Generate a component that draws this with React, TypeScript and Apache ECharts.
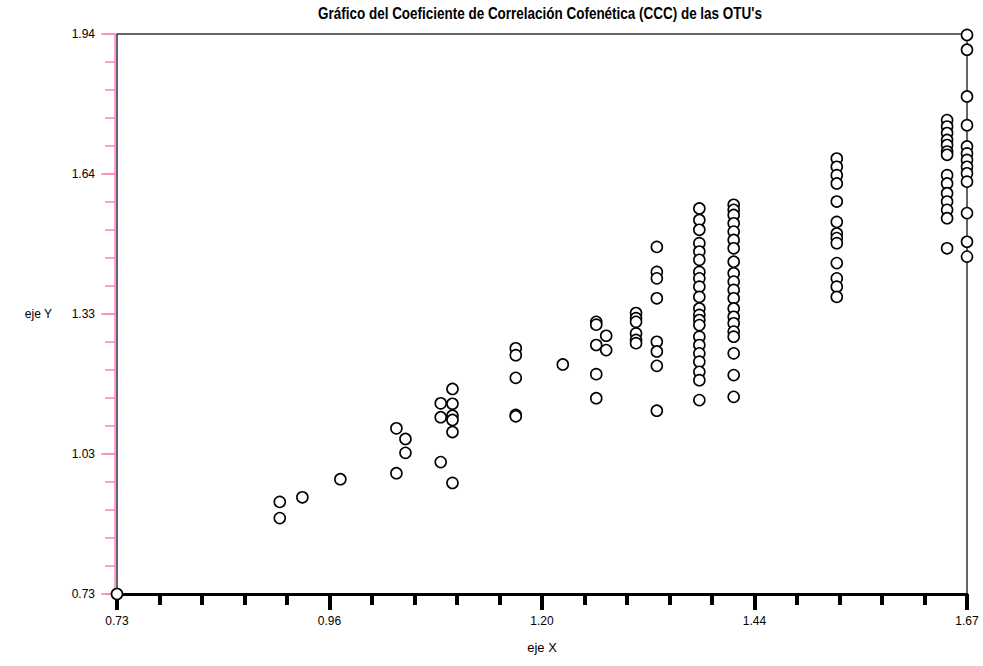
import React, { useEffect, useRef } from "react";
import * as echarts from "echarts";

const titleText = "Gráfico del Coeficiente de Correlación Cofenética (CCC) de las OTU's";
const xName = "eje X";
const yName = "eje Y";

const xMin = 0.73;
const xMax = 1.67;
const yMin = 0.73;
const yMax = 1.94;

const xMajorTicks = [0.73, 0.965, 1.2, 1.435, 1.67];
const xTickLabels = ["0.73", "0.96", "1.20", "1.44", "1.67"];
const yMajorTicks = [0.73, 1.0325, 1.335, 1.6375, 1.94];
const yTickLabels = ["0.73", "1.03", "1.33", "1.64", "1.94"];

// x position of each column of points, and the y values in that column
const columnX = [
  0.73, 0.91, 0.935, 0.977, 1.039, 1.049, 1.088, 1.101, 1.171, 1.223,
  1.26, 1.271, 1.304, 1.327, 1.374, 1.412, 1.526, 1.648, 1.67,
];
const colA = [0.73];
const colB = [0.929, 0.894];
const colC = [0.939];
const colD = [0.978];
const colE = [1.088, 0.991];
const colF = [1.065, 1.035];
const colG = [1.142, 1.112, 1.015];
const colH = [1.173, 1.141, 1.115, 1.106, 1.08, 0.97];
const colI = [1.261, 1.246, 1.197, 1.117, 1.114];
const colJ = [1.226];
const colK = [1.318, 1.312, 1.268, 1.205, 1.153];
const colL = [1.288, 1.257];
const colM = [1.337, 1.326, 1.318, 1.293, 1.279, 1.272];
const colN = [1.48, 1.426, 1.412, 1.369, 1.275, 1.254, 1.223, 1.126];
const colO = [
  1.563, 1.538, 1.517, 1.488, 1.47, 1.452, 1.426, 1.412, 1.394, 1.372, 1.347,
  1.333, 1.322, 1.311, 1.286, 1.268, 1.25, 1.232, 1.21, 1.192, 1.149,
];
const colP = [
  1.571, 1.56, 1.549, 1.531, 1.513, 1.495, 1.477, 1.448, 1.423, 1.405, 1.387,
  1.369, 1.347, 1.329, 1.315, 1.297, 1.286, 1.25, 1.203, 1.156,
];
const colQ = [
  1.671, 1.653, 1.635, 1.617, 1.578, 1.534, 1.509, 1.499, 1.488, 1.445, 1.412,
  1.394, 1.372,
];
const colR = [
  1.754, 1.74, 1.726, 1.711, 1.7, 1.686, 1.679, 1.635, 1.617, 1.596, 1.578,
  1.56, 1.542, 1.477,
];
const colS = [
  1.938, 1.906, 1.805, 1.743, 1.697, 1.682, 1.668, 1.653, 1.639, 1.621, 1.553,
  1.491, 1.459,
];
const columnY = [
  colA, colB, colC, colD, colE, colF, colG, colH, colI, colJ,
  colK, colL, colM, colN, colO, colP, colQ, colR, colS,
];

function minorTicks(majors: number[], parts: number): number[] {
  const out: number[] = [];
  for (let i = 0; i < majors.length - 1; i++) {
    const step = (majors[i + 1] - majors[i]) / parts;
    for (let k = 0; k < parts; k++) out.push(majors[i] + k * step);
  }
  out.push(majors[majors.length - 1]);
  return out;
}

function labelFor(ticks: number[], labels: string[]) {
  return (v: number) => {
    const i = ticks.findIndex((t) => Math.abs(t - v) < 1e-6);
    return i >= 0 ? labels[i] : "";
  };
}

const PINK = "#ff7fbf";
const FONT = "'Liberation Sans', Arial, sans-serif";
const TITLE_FONT = "bold 16px 'Liberation Sans', Arial, sans-serif";
const TITLE_WIDTH = 444;

function titleScale(): number {
  try {
    const ctx = document.createElement("canvas").getContext("2d");
    if (!ctx) return 0.8;
    ctx.font = TITLE_FONT;
    const w = ctx.measureText(titleText).width;
    return w > 0 ? TITLE_WIDTH / w : 0.8;
  } catch (e) {
    return 0.8;
  }
}

export default function App() {
  const ref = useRef<HTMLDivElement>(null);
  useEffect(() => {
    if (!ref.current) return;
    const chart = echarts.init(ref.current, null, { renderer: "svg" });
    const data: number[][] = [];
    columnX.forEach((x, i) => columnY[i].forEach((y) => data.push([x, y])));
    const s = titleScale();
    chart.setOption({
      animation: false,
      backgroundColor: "#ffffff",
      graphic: [
        {
          type: "text",
          x: 540,
          y: 14,
          scaleX: s,
          scaleY: 1,
          style: {
            text: titleText,
            font: TITLE_FONT,
            fill: "#000",
            textAlign: "center",
            textVerticalAlign: "middle",
          },
        },
      ],
      grid: {
        left: 117,
        right: 16,
        top: 34,
        bottom: 72,
        show: true,
        borderColor: "#333",
        borderWidth: 1.5,
        backgroundColor: "transparent",
      },
      xAxis: [
        {
          type: "value",
          min: xMin,
          max: xMax,
          position: "bottom",
          name: xName,
          nameLocation: "middle",
          nameGap: 47,
          nameTextStyle: { color: "#000", fontSize: 13, fontFamily: FONT },
          axisLine: { show: true, onZero: false, lineStyle: { color: "#000", width: 3 } },
          axisTick: { show: true, customValues: xMajorTicks, length: 16, lineStyle: { color: "#000", width: 4 } },
          axisLabel: {
            customValues: xMajorTicks,
            formatter: labelFor(xMajorTicks, xTickLabels),
            margin: 21,
            color: "#000",
            fontSize: 12,
            fontFamily: FONT,
          },
          splitLine: { show: false },
        },
        {
          type: "value",
          min: xMin,
          max: xMax,
          position: "bottom",
          axisLine: { show: false, onZero: false },
          axisTick: { show: true, customValues: minorTicks(xMajorTicks, 5), length: 11, lineStyle: { color: "#000", width: 4 } },
          axisLabel: { show: false },
          splitLine: { show: false },
        },
      ],
      yAxis: [
        {
          type: "value",
          min: yMin,
          max: yMax,
          position: "left",
          offset: 2,
          name: yName,
          nameLocation: "middle",
          nameRotate: 0,
          nameGap: 63,
          nameTextStyle: { color: "#000", fontSize: 12, fontFamily: FONT, align: "right" },
          axisLine: { show: true, onZero: false, lineStyle: { color: PINK, width: 1.5 } },
          axisTick: { show: true, customValues: yMajorTicks, length: 14, lineStyle: { color: PINK, width: 1.5 } },
          axisLabel: {
            customValues: yMajorTicks,
            formatter: labelFor(yMajorTicks, yTickLabels),
            margin: 20,
            color: "#000",
            fontSize: 12,
            fontFamily: FONT,
          },
          splitLine: { show: false },
        },
        {
          type: "value",
          min: yMin,
          max: yMax,
          position: "left",
          offset: 2,
          axisLine: { show: false, onZero: false },
          axisTick: { show: true, customValues: minorTicks(yMajorTicks, 5), length: 10, lineStyle: { color: PINK, width: 1.5 } },
          axisLabel: { show: false },
          splitLine: { show: false },
        },
      ],
      series: [
        {
          type: "scatter",
          xAxisIndex: 0,
          yAxisIndex: 0,
          data,
          symbol: "circle",
          symbolSize: 11,
          clip: false,
          itemStyle: { color: "#ffffff", borderColor: "#000", borderWidth: 1.6, opacity: 1 },
          emphasis: { disabled: true },
          z: 5,
        },
      ],
    });
    return () => chart.dispose();
  }, []);
  return (
    <div
      ref={ref}
      style={{ position: "fixed", left: 0, top: 0, width: 983, height: 666, background: "#fff" }}
    />
  );
}
